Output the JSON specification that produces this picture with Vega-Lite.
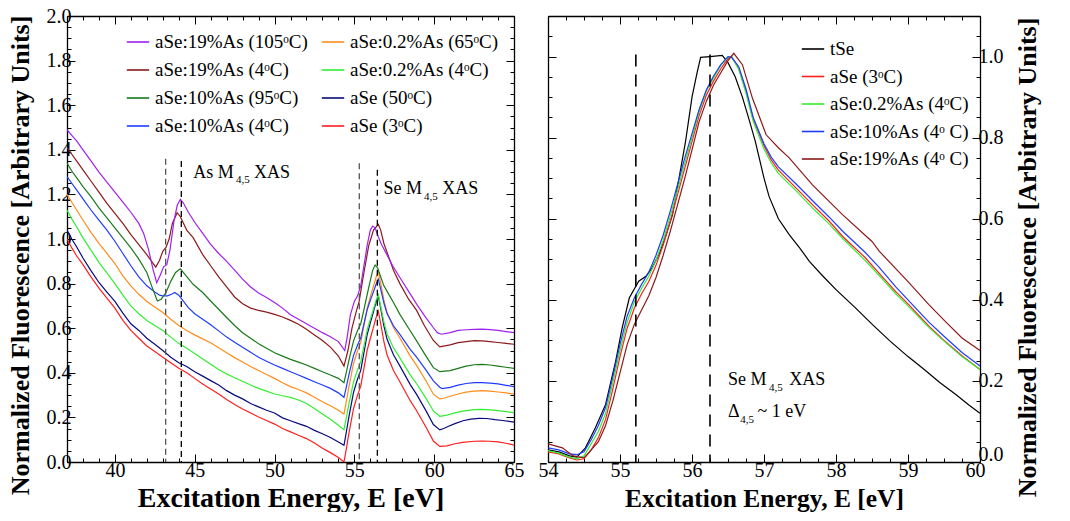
{
  "$schema": "https://vega.github.io/schema/vega-lite/v6.json",
  "background": "white",
  "padding": {"left": 6, "top": 6, "right": 5, "bottom": 0},
  "config": {
    "font": "Liberation Serif",
    "view": {"stroke": null},
    "axis": {
      "grid": false,
      "labelFont": "Liberation Serif",
      "labelFontSize": 20,
      "labelColor": "black",
      "labelFlush": false,
      "labelOverlap": false,
      "titleFont": "Liberation Serif",
      "titleFontSize": 26,
      "titleFontWeight": "bold",
      "titleColor": "black",
      "domainColor": "black",
      "domainWidth": 1.3,
      "tickColor": "black",
      "tickWidth": 1
    },
    "legend": {
      "labelFont": "Liberation Serif",
      "labelFontSize": 19,
      "labelColor": "black",
      "labelLimit": 400,
      "symbolType": "stroke",
      "symbolStrokeWidth": 1.6,
      "symbolSize": 500,
      "padding": 0
    }
  },
  "datasets": {
    "leftNames": [
      {"k": "P", "sample": "aSe:19%As (105ᵒC)"},
      {"k": "O", "sample": "aSe:0.2%As (65ᵒC)"},
      {"k": "B", "sample": "aSe:19%As (4ᵒC)"},
      {"k": "G", "sample": "aSe:0.2%As (4ᵒC)"},
      {"k": "D", "sample": "aSe:10%As (95ᵒC)"},
      {"k": "N", "sample": "aSe (50ᵒC)"},
      {"k": "L", "sample": "aSe:10%As (4ᵒC)"},
      {"k": "R", "sample": "aSe (3ᵒC)"}
    ],
    "rightNames": [
      {"k": "T", "sample": "tSe"},
      {"k": "R", "sample": "aSe (3ᵒC)"},
      {"k": "G", "sample": "aSe:0.2%As (4ᵒC)"},
      {"k": "L", "sample": "aSe:10%As (4ᵒ C)"},
      {"k": "B", "sample": "aSe:19%As (4ᵒ C)"}
    ],
    "leftCurves": [
      {"k":"R","E":37,"F":1.0},{"k":"R","E":37.3,"F":0.96},{"k":"R","E":37.6,"F":0.925},{"k":"R","E":38,"F":0.885},{"k":"R","E":38.5,"F":0.83},{"k":"R","E":39,"F":0.78},{"k":"R","E":39.5,"F":0.735},{"k":"R","E":40,"F":0.69},{"k":"R","E":40.5,"F":0.635},{"k":"R","E":41,"F":0.59},{"k":"R","E":41.5,"F":0.555},{"k":"R","E":42,"F":0.52},{"k":"R","E":42.5,"F":0.495},{"k":"R","E":43,"F":0.47},{"k":"R","E":43.5,"F":0.445},{"k":"R","E":44,"F":0.42},{"k":"R","E":44.5,"F":0.4},{"k":"R","E":45,"F":0.375},{"k":"R","E":45.5,"F":0.35},{"k":"R","E":46,"F":0.327},{"k":"R","E":46.5,"F":0.305},{"k":"R","E":47,"F":0.28},{"k":"R","E":47.5,"F":0.258},{"k":"R","E":48,"F":0.238},{"k":"R","E":48.5,"F":0.22},{"k":"R","E":49,"F":0.202},{"k":"R","E":49.5,"F":0.186},{"k":"R","E":50,"F":0.17},{"k":"R","E":50.5,"F":0.15},{"k":"R","E":51,"F":0.135},{"k":"R","E":51.5,"F":0.12},{"k":"R","E":52,"F":0.105},{"k":"R","E":52.5,"F":0.085},{"k":"R","E":53,"F":0.062},{"k":"R","E":53.5,"F":0.042},{"k":"R","E":54,"F":0.02},{"k":"R","E":54.35,"F":0.0},{"k":"R","E":54.5,"F":0.06},{"k":"R","E":54.65,"F":0.125},{"k":"R","E":54.95,"F":0.24},{"k":"R","E":55.2,"F":0.3},{"k":"R","E":55.4,"F":0.34},{"k":"R","E":55.6,"F":0.42},{"k":"R","E":55.8,"F":0.5},{"k":"R","E":56.0,"F":0.555},{"k":"R","E":56.2,"F":0.605},{"k":"R","E":56.35,"F":0.645},{"k":"R","E":56.5,"F":0.677},{"k":"R","E":56.65,"F":0.62},{"k":"R","E":56.85,"F":0.54},{"k":"R","E":57.05,"F":0.48},{"k":"R","E":57.45,"F":0.41},{"k":"R","E":57.85,"F":0.36},{"k":"R","E":58.5,"F":0.275},{"k":"R","E":58.9,"F":0.23},{"k":"R","E":59.5,"F":0.155},{"k":"R","E":59.95,"F":0.094},{"k":"R","E":60.35,"F":0.07},{"k":"R","E":60.8,"F":0.072},{"k":"R","E":61.3,"F":0.082},{"k":"R","E":61.8,"F":0.088},{"k":"R","E":62.5,"F":0.093},{"k":"R","E":63,"F":0.094},{"k":"R","E":63.5,"F":0.093},{"k":"R","E":64,"F":0.09},{"k":"R","E":64.5,"F":0.084},{"k":"R","E":65,"F":0.076},

      {"k":"N","E":37,"F":1.04},{"k":"N","E":37.3,"F":1.0},{"k":"N","E":37.6,"F":0.965},{"k":"N","E":38,"F":0.915},{"k":"N","E":38.5,"F":0.858},{"k":"N","E":39,"F":0.805},{"k":"N","E":39.5,"F":0.762},{"k":"N","E":40,"F":0.72},{"k":"N","E":40.5,"F":0.668},{"k":"N","E":41,"F":0.62},{"k":"N","E":41.5,"F":0.59},{"k":"N","E":42,"F":0.555},{"k":"N","E":42.5,"F":0.528},{"k":"N","E":43,"F":0.5},{"k":"N","E":43.5,"F":0.47},{"k":"N","E":44,"F":0.445},{"k":"N","E":44.5,"F":0.428},{"k":"N","E":45,"F":0.405},{"k":"N","E":45.5,"F":0.385},{"k":"N","E":46,"F":0.365},{"k":"N","E":46.5,"F":0.345},{"k":"N","E":47,"F":0.32},{"k":"N","E":47.5,"F":0.3},{"k":"N","E":48,"F":0.283},{"k":"N","E":48.5,"F":0.262},{"k":"N","E":49,"F":0.247},{"k":"N","E":49.5,"F":0.232},{"k":"N","E":50,"F":0.22},{"k":"N","E":50.5,"F":0.198},{"k":"N","E":51,"F":0.185},{"k":"N","E":51.5,"F":0.172},{"k":"N","E":52,"F":0.16},{"k":"N","E":52.5,"F":0.142},{"k":"N","E":53,"F":0.127},{"k":"N","E":53.5,"F":0.11},{"k":"N","E":54,"F":0.09},{"k":"N","E":54.35,"F":0.075},{"k":"N","E":54.5,"F":0.135},{"k":"N","E":54.65,"F":0.199},{"k":"N","E":54.95,"F":0.313},{"k":"N","E":55.2,"F":0.372},{"k":"N","E":55.4,"F":0.411},{"k":"N","E":55.6,"F":0.49},{"k":"N","E":55.8,"F":0.57},{"k":"N","E":56.0,"F":0.624},{"k":"N","E":56.2,"F":0.674},{"k":"N","E":56.35,"F":0.714},{"k":"N","E":56.5,"F":0.745},{"k":"N","E":56.65,"F":0.689},{"k":"N","E":56.85,"F":0.61},{"k":"N","E":57.05,"F":0.55},{"k":"N","E":57.45,"F":0.481},{"k":"N","E":57.85,"F":0.431},{"k":"N","E":58.5,"F":0.347},{"k":"N","E":58.9,"F":0.303},{"k":"N","E":59.5,"F":0.228},{"k":"N","E":59.95,"F":0.168},{"k":"N","E":60.35,"F":0.144},{"k":"N","E":60.6,"F":0.15},{"k":"N","E":60.9,"F":0.16},{"k":"N","E":61.3,"F":0.172},{"k":"N","E":61.8,"F":0.185},{"k":"N","E":62.3,"F":0.192},{"k":"N","E":62.8,"F":0.196},{"k":"N","E":63.3,"F":0.195},{"k":"N","E":63.8,"F":0.19},{"k":"N","E":64.3,"F":0.186},{"k":"N","E":64.7,"F":0.182},{"k":"N","E":65,"F":0.179},

      {"k":"G","E":37,"F":1.13},{"k":"G","E":37.3,"F":1.09},{"k":"G","E":37.6,"F":1.055},{"k":"G","E":38,"F":1.005},{"k":"G","E":38.5,"F":0.95},{"k":"G","E":39,"F":0.895},{"k":"G","E":39.5,"F":0.848},{"k":"G","E":40,"F":0.8},{"k":"G","E":40.5,"F":0.748},{"k":"G","E":41,"F":0.7},{"k":"G","E":41.5,"F":0.665},{"k":"G","E":42,"F":0.635},{"k":"G","E":42.5,"F":0.612},{"k":"G","E":43,"F":0.59},{"k":"G","E":43.5,"F":0.56},{"k":"G","E":44,"F":0.532},{"k":"G","E":44.5,"F":0.51},{"k":"G","E":45,"F":0.487},{"k":"G","E":45.5,"F":0.462},{"k":"G","E":46,"F":0.438},{"k":"G","E":46.5,"F":0.415},{"k":"G","E":47,"F":0.395},{"k":"G","E":47.5,"F":0.378},{"k":"G","E":48,"F":0.362},{"k":"G","E":48.5,"F":0.345},{"k":"G","E":49,"F":0.33},{"k":"G","E":49.5,"F":0.318},{"k":"G","E":50,"F":0.305},{"k":"G","E":50.5,"F":0.297},{"k":"G","E":51,"F":0.29},{"k":"G","E":51.5,"F":0.278},{"k":"G","E":52,"F":0.262},{"k":"G","E":52.5,"F":0.24},{"k":"G","E":53,"F":0.215},{"k":"G","E":53.5,"F":0.192},{"k":"G","E":54,"F":0.165},{"k":"G","E":54.35,"F":0.145},{"k":"G","E":54.5,"F":0.199},{"k":"G","E":54.65,"F":0.257},{"k":"G","E":54.95,"F":0.36},{"k":"G","E":55.2,"F":0.413},{"k":"G","E":55.4,"F":0.449},{"k":"G","E":55.6,"F":0.52},{"k":"G","E":55.8,"F":0.592},{"k":"G","E":56.0,"F":0.641},{"k":"G","E":56.2,"F":0.686},{"k":"G","E":56.35,"F":0.722},{"k":"G","E":56.5,"F":0.75},{"k":"G","E":56.65,"F":0.699},{"k":"G","E":56.85,"F":0.628},{"k":"G","E":57.05,"F":0.574},{"k":"G","E":57.45,"F":0.512},{"k":"G","E":57.85,"F":0.467},{"k":"G","E":58.5,"F":0.391},{"k":"G","E":58.9,"F":0.351},{"k":"G","E":59.5,"F":0.284},{"k":"G","E":59.95,"F":0.229},{"k":"G","E":60.35,"F":0.205},{"k":"G","E":60.8,"F":0.21},{"k":"G","E":61.3,"F":0.22},{"k":"G","E":61.8,"F":0.228},{"k":"G","E":62.5,"F":0.235},{"k":"G","E":63,"F":0.236},{"k":"G","E":63.5,"F":0.234},{"k":"G","E":64,"F":0.23},{"k":"G","E":64.5,"F":0.226},{"k":"G","E":65,"F":0.221},

      {"k":"O","E":37,"F":1.2},{"k":"O","E":37.3,"F":1.165},{"k":"O","E":37.6,"F":1.13},{"k":"O","E":38,"F":1.085},{"k":"O","E":38.5,"F":1.03},{"k":"O","E":39,"F":0.98},{"k":"O","E":39.5,"F":0.935},{"k":"O","E":40,"F":0.89},{"k":"O","E":40.5,"F":0.835},{"k":"O","E":41,"F":0.79},{"k":"O","E":41.5,"F":0.752},{"k":"O","E":42,"F":0.72},{"k":"O","E":42.5,"F":0.695},{"k":"O","E":43,"F":0.67},{"k":"O","E":43.5,"F":0.64},{"k":"O","E":44,"F":0.612},{"k":"O","E":44.5,"F":0.59},{"k":"O","E":45,"F":0.57},{"k":"O","E":45.5,"F":0.552},{"k":"O","E":46,"F":0.535},{"k":"O","E":46.5,"F":0.512},{"k":"O","E":47,"F":0.49},{"k":"O","E":47.5,"F":0.468},{"k":"O","E":48,"F":0.448},{"k":"O","E":48.5,"F":0.428},{"k":"O","E":49,"F":0.41},{"k":"O","E":49.5,"F":0.392},{"k":"O","E":50,"F":0.375},{"k":"O","E":50.5,"F":0.355},{"k":"O","E":51,"F":0.338},{"k":"O","E":51.5,"F":0.325},{"k":"O","E":52,"F":0.31},{"k":"O","E":52.5,"F":0.29},{"k":"O","E":53,"F":0.27},{"k":"O","E":53.5,"F":0.252},{"k":"O","E":54,"F":0.232},{"k":"O","E":54.35,"F":0.215},{"k":"O","E":54.5,"F":0.272},{"k":"O","E":54.65,"F":0.334},{"k":"O","E":54.95,"F":0.443},{"k":"O","E":55.2,"F":0.499},{"k":"O","E":55.4,"F":0.537},{"k":"O","E":55.6,"F":0.612},{"k":"O","E":55.8,"F":0.689},{"k":"O","E":56.0,"F":0.741},{"k":"O","E":56.2,"F":0.788},{"k":"O","E":56.35,"F":0.826},{"k":"O","E":56.5,"F":0.856},{"k":"O","E":56.65,"F":0.802},{"k":"O","E":56.85,"F":0.727},{"k":"O","E":57.05,"F":0.669},{"k":"O","E":57.45,"F":0.603},{"k":"O","E":57.85,"F":0.556},{"k":"O","E":58.5,"F":0.475},{"k":"O","E":58.9,"F":0.433},{"k":"O","E":59.5,"F":0.362},{"k":"O","E":59.95,"F":0.304},{"k":"O","E":60.35,"F":0.283},{"k":"O","E":60.6,"F":0.286},{"k":"O","E":61,"F":0.295},{"k":"O","E":61.5,"F":0.305},{"k":"O","E":62,"F":0.313},{"k":"O","E":62.5,"F":0.318},{"k":"O","E":63,"F":0.32},{"k":"O","E":63.5,"F":0.318},{"k":"O","E":64,"F":0.314},{"k":"O","E":64.5,"F":0.31},{"k":"O","E":65,"F":0.304},

      {"k":"L","E":37,"F":1.28},{"k":"L","E":37.3,"F":1.25},{"k":"L","E":37.6,"F":1.22},{"k":"L","E":38,"F":1.18},{"k":"L","E":38.5,"F":1.13},{"k":"L","E":39,"F":1.085},{"k":"L","E":39.5,"F":1.04},{"k":"L","E":40,"F":0.99},{"k":"L","E":40.5,"F":0.935},{"k":"L","E":41,"F":0.88},{"k":"L","E":41.5,"F":0.83},{"k":"L","E":42,"F":0.79},{"k":"L","E":42.5,"F":0.762},{"k":"L","E":42.8,"F":0.748},{"k":"L","E":43.0,"F":0.745},{"k":"L","E":43.3,"F":0.745},{"k":"L","E":43.55,"F":0.752},{"k":"L","E":43.75,"F":0.76},{"k":"L","E":44.0,"F":0.748},{"k":"L","E":44.3,"F":0.72},{"k":"L","E":44.6,"F":0.692},{"k":"L","E":45,"F":0.665},{"k":"L","E":45.5,"F":0.64},{"k":"L","E":46,"F":0.615},{"k":"L","E":46.5,"F":0.588},{"k":"L","E":47,"F":0.56},{"k":"L","E":47.5,"F":0.537},{"k":"L","E":48,"F":0.515},{"k":"L","E":48.5,"F":0.492},{"k":"L","E":49,"F":0.47},{"k":"L","E":49.5,"F":0.452},{"k":"L","E":50,"F":0.435},{"k":"L","E":50.5,"F":0.42},{"k":"L","E":51,"F":0.405},{"k":"L","E":51.5,"F":0.39},{"k":"L","E":52,"F":0.375},{"k":"L","E":52.5,"F":0.36},{"k":"L","E":53,"F":0.345},{"k":"L","E":53.5,"F":0.33},{"k":"L","E":54,"F":0.31},{"k":"L","E":54.35,"F":0.29},{"k":"L","E":54.5,"F":0.337},{"k":"L","E":54.65,"F":0.388},{"k":"L","E":54.95,"F":0.478},{"k":"L","E":55.2,"F":0.525},{"k":"L","E":55.4,"F":0.556},{"k":"L","E":55.6,"F":0.619},{"k":"L","E":55.8,"F":0.682},{"k":"L","E":56.0,"F":0.725},{"k":"L","E":56.2,"F":0.764},{"k":"L","E":56.35,"F":0.795},{"k":"L","E":56.5,"F":0.82},{"k":"L","E":56.65,"F":0.775},{"k":"L","E":56.85,"F":0.713},{"k":"L","E":57.05,"F":0.666},{"k":"L","E":57.45,"F":0.611},{"k":"L","E":57.85,"F":0.572},{"k":"L","E":58.5,"F":0.505},{"k":"L","E":58.9,"F":0.47},{"k":"L","E":59.5,"F":0.411},{"k":"L","E":59.95,"F":0.364},{"k":"L","E":60.35,"F":0.335},{"k":"L","E":60.5,"F":0.329},{"k":"L","E":61,"F":0.335},{"k":"L","E":61.5,"F":0.345},{"k":"L","E":62,"F":0.352},{"k":"L","E":62.5,"F":0.356},{"k":"L","E":63,"F":0.356},{"k":"L","E":63.5,"F":0.354},{"k":"L","E":64,"F":0.35},{"k":"L","E":64.5,"F":0.344},{"k":"L","E":65,"F":0.338},

      {"k":"D","E":37,"F":1.34},{"k":"D","E":37.3,"F":1.305},{"k":"D","E":37.6,"F":1.275},{"k":"D","E":38,"F":1.235},{"k":"D","E":38.5,"F":1.19},{"k":"D","E":39,"F":1.14},{"k":"D","E":39.5,"F":1.095},{"k":"D","E":40,"F":1.05},{"k":"D","E":40.5,"F":1.005},{"k":"D","E":41,"F":0.96},{"k":"D","E":41.5,"F":0.91},{"k":"D","E":42,"F":0.85},{"k":"D","E":42.3,"F":0.79},{"k":"D","E":42.66,"F":0.722},{"k":"D","E":42.9,"F":0.73},{"k":"D","E":43.2,"F":0.76},{"k":"D","E":43.5,"F":0.81},{"k":"D","E":43.8,"F":0.85},{"k":"D","E":44.1,"F":0.866},{"k":"D","E":44.4,"F":0.84},{"k":"D","E":44.9,"F":0.797},{"k":"D","E":45.5,"F":0.76},{"k":"D","E":46,"F":0.722},{"k":"D","E":46.5,"F":0.685},{"k":"D","E":47,"F":0.648},{"k":"D","E":47.5,"F":0.612},{"k":"D","E":48,"F":0.58},{"k":"D","E":48.5,"F":0.555},{"k":"D","E":49,"F":0.53},{"k":"D","E":49.5,"F":0.51},{"k":"D","E":50,"F":0.49},{"k":"D","E":50.5,"F":0.475},{"k":"D","E":51,"F":0.46},{"k":"D","E":51.5,"F":0.448},{"k":"D","E":52,"F":0.435},{"k":"D","E":52.5,"F":0.42},{"k":"D","E":53,"F":0.405},{"k":"D","E":53.5,"F":0.39},{"k":"D","E":54,"F":0.375},{"k":"D","E":54.35,"F":0.356},{"k":"D","E":54.5,"F":0.403},{"k":"D","E":54.65,"F":0.453},{"k":"D","E":54.95,"F":0.543},{"k":"D","E":55.2,"F":0.59},{"k":"D","E":55.4,"F":0.62},{"k":"D","E":55.6,"F":0.683},{"k":"D","E":55.8,"F":0.75},{"k":"D","E":56.0,"F":0.815},{"k":"D","E":56.15,"F":0.86},{"k":"D","E":56.3,"F":0.883},{"k":"D","E":56.45,"F":0.872},{"k":"D","E":56.65,"F":0.83},{"k":"D","E":56.85,"F":0.79},{"k":"D","E":57.05,"F":0.765},{"k":"D","E":57.45,"F":0.715},{"k":"D","E":57.85,"F":0.662},{"k":"D","E":58.4,"F":0.6},{"k":"D","E":58.9,"F":0.543},{"k":"D","E":59.4,"F":0.485},{"k":"D","E":59.95,"F":0.423},{"k":"D","E":60.35,"F":0.405},{"k":"D","E":61,"F":0.41},{"k":"D","E":61.5,"F":0.42},{"k":"D","E":62,"F":0.43},{"k":"D","E":62.5,"F":0.436},{"k":"D","E":63,"F":0.438},{"k":"D","E":63.5,"F":0.435},{"k":"D","E":64,"F":0.43},{"k":"D","E":64.5,"F":0.425},{"k":"D","E":65,"F":0.42},

      {"k":"B","E":37,"F":1.41},{"k":"B","E":37.3,"F":1.38},{"k":"B","E":37.6,"F":1.35},{"k":"B","E":38,"F":1.31},{"k":"B","E":38.5,"F":1.26},{"k":"B","E":39,"F":1.21},{"k":"B","E":39.5,"F":1.16},{"k":"B","E":40,"F":1.115},{"k":"B","E":40.5,"F":1.07},{"k":"B","E":41,"F":1.02},{"k":"B","E":41.5,"F":0.975},{"k":"B","E":42,"F":0.93},{"k":"B","E":42.3,"F":0.9},{"k":"B","E":42.56,"F":0.874},{"k":"B","E":42.8,"F":0.905},{"k":"B","E":43.0,"F":0.945},{"k":"B","E":43.2,"F":0.962},{"k":"B","E":43.4,"F":1.0},{"k":"B","E":43.6,"F":1.07},{"k":"B","E":43.9,"F":1.118},{"k":"B","E":44.1,"F":1.1},{"k":"B","E":44.5,"F":1.04},{"k":"B","E":44.9,"F":1.006},{"k":"B","E":45.5,"F":0.93},{"k":"B","E":46,"F":0.88},{"k":"B","E":46.5,"F":0.83},{"k":"B","E":47,"F":0.785},{"k":"B","E":47.5,"F":0.74},{"k":"B","E":48,"F":0.71},{"k":"B","E":48.5,"F":0.69},{"k":"B","E":49,"F":0.68},{"k":"B","E":49.5,"F":0.672},{"k":"B","E":50,"F":0.662},{"k":"B","E":50.5,"F":0.65},{"k":"B","E":51,"F":0.635},{"k":"B","E":51.5,"F":0.618},{"k":"B","E":52,"F":0.595},{"k":"B","E":52.5,"F":0.57},{"k":"B","E":53,"F":0.545},{"k":"B","E":53.5,"F":0.515},{"k":"B","E":54,"F":0.475},{"k":"B","E":54.35,"F":0.43},{"k":"B","E":54.6,"F":0.5},{"k":"B","E":54.85,"F":0.6},{"k":"B","E":55.1,"F":0.67},{"k":"B","E":55.3,"F":0.72},{"k":"B","E":55.6,"F":0.85},{"k":"B","E":55.9,"F":0.97},{"k":"B","E":56.2,"F":1.04},{"k":"B","E":56.5,"F":1.066},{"k":"B","E":56.65,"F":1.04},{"k":"B","E":56.85,"F":0.98},{"k":"B","E":57.05,"F":0.94},{"k":"B","E":57.45,"F":0.86},{"k":"B","E":57.85,"F":0.8},{"k":"B","E":58.4,"F":0.73},{"k":"B","E":58.9,"F":0.68},{"k":"B","E":59.4,"F":0.61},{"k":"B","E":59.95,"F":0.545},{"k":"B","E":60.35,"F":0.516},{"k":"B","E":61,"F":0.525},{"k":"B","E":61.5,"F":0.535},{"k":"B","E":62,"F":0.54},{"k":"B","E":62.5,"F":0.544},{"k":"B","E":63,"F":0.543},{"k":"B","E":63.5,"F":0.54},{"k":"B","E":64,"F":0.536},{"k":"B","E":64.5,"F":0.532},{"k":"B","E":65,"F":0.528},

      {"k":"P","E":37,"F":1.49},{"k":"P","E":37.3,"F":1.465},{"k":"P","E":37.6,"F":1.44},{"k":"P","E":38,"F":1.4},{"k":"P","E":38.5,"F":1.35},{"k":"P","E":39,"F":1.3},{"k":"P","E":39.5,"F":1.255},{"k":"P","E":40,"F":1.21},{"k":"P","E":40.5,"F":1.165},{"k":"P","E":41,"F":1.12},{"k":"P","E":41.5,"F":1.07},{"k":"P","E":41.8,"F":1.025},{"k":"P","E":42.1,"F":0.955},{"k":"P","E":42.4,"F":0.86},{"k":"P","E":42.62,"F":0.804},{"k":"P","E":42.85,"F":0.84},{"k":"P","E":43.05,"F":0.875},{"k":"P","E":43.25,"F":0.885},{"k":"P","E":43.45,"F":0.95},{"k":"P","E":43.7,"F":1.08},{"k":"P","E":43.9,"F":1.15},{"k":"P","E":44.1,"F":1.178},{"k":"P","E":44.3,"F":1.16},{"k":"P","E":44.6,"F":1.12},{"k":"P","E":45,"F":1.075},{"k":"P","E":45.5,"F":1.025},{"k":"P","E":46,"F":0.976},{"k":"P","E":46.5,"F":0.935},{"k":"P","E":47,"F":0.9},{"k":"P","E":47.5,"F":0.86},{"k":"P","E":48,"F":0.82},{"k":"P","E":48.5,"F":0.785},{"k":"P","E":49,"F":0.758},{"k":"P","E":49.5,"F":0.738},{"k":"P","E":50,"F":0.715},{"k":"P","E":50.5,"F":0.69},{"k":"P","E":51,"F":0.66},{"k":"P","E":51.5,"F":0.64},{"k":"P","E":52,"F":0.62},{"k":"P","E":52.5,"F":0.6},{"k":"P","E":53,"F":0.58},{"k":"P","E":53.5,"F":0.562},{"k":"P","E":54,"F":0.54},{"k":"P","E":54.4,"F":0.5},{"k":"P","E":54.55,"F":0.56},{"k":"P","E":54.75,"F":0.66},{"k":"P","E":55.0,"F":0.72},{"k":"P","E":55.2,"F":0.745},{"k":"P","E":55.4,"F":0.79},{"k":"P","E":55.6,"F":0.88},{"k":"P","E":55.8,"F":0.97},{"k":"P","E":56.0,"F":1.04},{"k":"P","E":56.15,"F":1.058},{"k":"P","E":56.3,"F":1.05},{"k":"P","E":56.5,"F":1.01},{"k":"P","E":56.7,"F":0.975},{"k":"P","E":57.03,"F":0.931},{"k":"P","E":57.4,"F":0.88},{"k":"P","E":57.86,"F":0.826},{"k":"P","E":58.4,"F":0.765},{"k":"P","E":58.91,"F":0.707},{"k":"P","E":59.4,"F":0.655},{"k":"P","E":59.95,"F":0.602},{"k":"P","E":60.2,"F":0.58},{"k":"P","E":60.45,"F":0.573},{"k":"P","E":61,"F":0.58},{"k":"P","E":61.5,"F":0.59},{"k":"P","E":62,"F":0.593},{"k":"P","E":62.5,"F":0.595},{"k":"P","E":63,"F":0.596},{"k":"P","E":63.5,"F":0.594},{"k":"P","E":64,"F":0.59},{"k":"P","E":64.5,"F":0.585},{"k":"P","E":65,"F":0.58}
    ],
    "rightCurves": [
      {"k":"T","E":54.0,"F":0.03},{"k":"T","E":54.15,"F":0.025},{"k":"T","E":54.3,"F":0.015},{"k":"T","E":54.4,"F":0.012},{"k":"T","E":54.52,"F":0.035},{"k":"T","E":54.66,"F":0.085},{"k":"T","E":54.8,"F":0.142},{"k":"T","E":54.94,"F":0.249},{"k":"T","E":55.03,"F":0.331},{"k":"T","E":55.13,"F":0.405},{"k":"T","E":55.26,"F":0.446},{"k":"T","E":55.36,"F":0.458},{"k":"T","E":55.45,"F":0.48},{"k":"T","E":55.54,"F":0.512},{"k":"T","E":55.63,"F":0.555},{"k":"T","E":55.73,"F":0.61},{"k":"T","E":55.82,"F":0.7},{"k":"T","E":55.91,"F":0.79},{"k":"T","E":56.0,"F":0.9},{"k":"T","E":56.07,"F":0.96},{"k":"T","E":56.12,"F":0.998},{"k":"T","E":56.25,"F":1.0},{"k":"T","E":56.42,"F":1.003},{"k":"T","E":56.5,"F":0.985},{"k":"T","E":56.6,"F":0.95},{"k":"T","E":56.7,"F":0.9},{"k":"T","E":56.8,"F":0.84},{"k":"T","E":56.88,"F":0.79},{"k":"T","E":57.0,"F":0.7},{"k":"T","E":57.07,"F":0.655},{"k":"T","E":57.2,"F":0.6},{"k":"T","E":57.35,"F":0.561},{"k":"T","E":57.5,"F":0.527},{"k":"T","E":57.63,"F":0.495},{"k":"T","E":57.81,"F":0.46},{"k":"T","E":58.0,"F":0.425},{"k":"T","E":58.27,"F":0.38},{"k":"T","E":58.5,"F":0.34},{"k":"T","E":58.74,"F":0.3},{"k":"T","E":59.0,"F":0.26},{"k":"T","E":59.2,"F":0.232},{"k":"T","E":59.45,"F":0.195},{"k":"T","E":59.66,"F":0.167},{"k":"T","E":59.85,"F":0.14},{"k":"T","E":60.0,"F":0.12},

      {"k":"R","E":54.0,"F":0.025},{"k":"R","E":54.15,"F":0.02},{"k":"R","E":54.3,"F":0.01},{"k":"R","E":54.4,"F":0.005},{"k":"R","E":54.5,"F":0.008},{"k":"R","E":54.6,"F":0.03},{"k":"R","E":54.7,"F":0.06},{"k":"R","E":54.8,"F":0.105},{"k":"R","E":54.9,"F":0.18},{"k":"R","E":55.0,"F":0.26},{"k":"R","E":55.1,"F":0.33},{"k":"R","E":55.2,"F":0.38},{"k":"R","E":55.3,"F":0.415},{"k":"R","E":55.4,"F":0.445},{"k":"R","E":55.5,"F":0.485},{"k":"R","E":55.6,"F":0.535},{"k":"R","E":55.7,"F":0.595},{"k":"R","E":55.8,"F":0.66},{"k":"R","E":55.9,"F":0.725},{"k":"R","E":56.0,"F":0.79},{"k":"R","E":56.1,"F":0.855},{"k":"R","E":56.2,"F":0.905},{"k":"R","E":56.3,"F":0.94},{"k":"R","E":56.4,"F":0.97},{"k":"R","E":56.5,"F":0.995},{"k":"R","E":56.55,"F":1.0},{"k":"R","E":56.65,"F":0.97},{"k":"R","E":56.75,"F":0.915},{"k":"R","E":56.85,"F":0.845},{"k":"R","E":57.0,"F":0.78},{"k":"R","E":57.1,"F":0.745},{"k":"R","E":57.2,"F":0.72},{"k":"R","E":57.45,"F":0.675},{"k":"R","E":57.7,"F":0.63},{"k":"R","E":57.9,"F":0.595},{"k":"R","E":58.1,"F":0.555},{"k":"R","E":58.4,"F":0.505},{"k":"R","E":58.6,"F":0.465},{"k":"R","E":58.83,"F":0.42},{"k":"R","E":59.0,"F":0.39},{"k":"R","E":59.29,"F":0.335},{"k":"R","E":59.5,"F":0.3},{"k":"R","E":59.75,"F":0.262},{"k":"R","E":60.0,"F":0.228},

      {"k":"G","E":54.0,"F":0.028},{"k":"G","E":54.15,"F":0.022},{"k":"G","E":54.3,"F":0.012},{"k":"G","E":54.4,"F":0.008},{"k":"G","E":54.5,"F":0.015},{"k":"G","E":54.6,"F":0.045},{"k":"G","E":54.7,"F":0.075},{"k":"G","E":54.8,"F":0.12},{"k":"G","E":54.9,"F":0.195},{"k":"G","E":55.0,"F":0.275},{"k":"G","E":55.1,"F":0.345},{"k":"G","E":55.2,"F":0.395},{"k":"G","E":55.3,"F":0.428},{"k":"G","E":55.4,"F":0.458},{"k":"G","E":55.5,"F":0.497},{"k":"G","E":55.6,"F":0.547},{"k":"G","E":55.7,"F":0.607},{"k":"G","E":55.8,"F":0.672},{"k":"G","E":55.9,"F":0.737},{"k":"G","E":56.0,"F":0.8},{"k":"G","E":56.1,"F":0.865},{"k":"G","E":56.2,"F":0.915},{"k":"G","E":56.3,"F":0.948},{"k":"G","E":56.4,"F":0.978},{"k":"G","E":56.5,"F":0.998},{"k":"G","E":56.55,"F":1.0},{"k":"G","E":56.65,"F":0.968},{"k":"G","E":56.75,"F":0.91},{"k":"G","E":56.85,"F":0.84},{"k":"G","E":57.0,"F":0.772},{"k":"G","E":57.1,"F":0.738},{"k":"G","E":57.2,"F":0.712},{"k":"G","E":57.45,"F":0.668},{"k":"G","E":57.7,"F":0.622},{"k":"G","E":57.9,"F":0.588},{"k":"G","E":58.1,"F":0.55},{"k":"G","E":58.4,"F":0.498},{"k":"G","E":58.6,"F":0.46},{"k":"G","E":58.83,"F":0.415},{"k":"G","E":59.0,"F":0.385},{"k":"G","E":59.29,"F":0.332},{"k":"G","E":59.5,"F":0.298},{"k":"G","E":59.75,"F":0.26},{"k":"G","E":60.0,"F":0.228},

      {"k":"L","E":54.0,"F":0.035},{"k":"L","E":54.15,"F":0.03},{"k":"L","E":54.3,"F":0.02},{"k":"L","E":54.4,"F":0.018},{"k":"L","E":54.5,"F":0.025},{"k":"L","E":54.6,"F":0.055},{"k":"L","E":54.7,"F":0.09},{"k":"L","E":54.8,"F":0.135},{"k":"L","E":54.9,"F":0.21},{"k":"L","E":55.0,"F":0.29},{"k":"L","E":55.1,"F":0.36},{"k":"L","E":55.2,"F":0.405},{"k":"L","E":55.3,"F":0.438},{"k":"L","E":55.4,"F":0.468},{"k":"L","E":55.5,"F":0.51},{"k":"L","E":55.6,"F":0.56},{"k":"L","E":55.7,"F":0.62},{"k":"L","E":55.8,"F":0.685},{"k":"L","E":55.9,"F":0.75},{"k":"L","E":56.0,"F":0.81},{"k":"L","E":56.1,"F":0.87},{"k":"L","E":56.2,"F":0.918},{"k":"L","E":56.3,"F":0.952},{"k":"L","E":56.4,"F":0.98},{"k":"L","E":56.5,"F":1.0},{"k":"L","E":56.55,"F":0.998},{"k":"L","E":56.65,"F":0.975},{"k":"L","E":56.75,"F":0.92},{"k":"L","E":56.85,"F":0.85},{"k":"L","E":57.0,"F":0.785},{"k":"L","E":57.1,"F":0.752},{"k":"L","E":57.2,"F":0.728},{"k":"L","E":57.45,"F":0.685},{"k":"L","E":57.7,"F":0.64},{"k":"L","E":57.9,"F":0.605},{"k":"L","E":58.1,"F":0.568},{"k":"L","E":58.4,"F":0.518},{"k":"L","E":58.6,"F":0.48},{"k":"L","E":58.83,"F":0.432},{"k":"L","E":59.0,"F":0.4},{"k":"L","E":59.29,"F":0.345},{"k":"L","E":59.5,"F":0.31},{"k":"L","E":59.75,"F":0.27},{"k":"L","E":60.0,"F":0.237},

      {"k":"B","E":54.0,"F":0.045},{"k":"B","E":54.2,"F":0.035},{"k":"B","E":54.35,"F":0.015},{"k":"B","E":54.5,"F":0.01},{"k":"B","E":54.6,"F":0.03},{"k":"B","E":54.7,"F":0.05},{"k":"B","E":54.8,"F":0.09},{"k":"B","E":54.9,"F":0.15},{"k":"B","E":55.0,"F":0.22},{"k":"B","E":55.1,"F":0.29},{"k":"B","E":55.2,"F":0.34},{"k":"B","E":55.3,"F":0.375},{"k":"B","E":55.4,"F":0.41},{"k":"B","E":55.5,"F":0.455},{"k":"B","E":55.6,"F":0.51},{"k":"B","E":55.7,"F":0.57},{"k":"B","E":55.8,"F":0.635},{"k":"B","E":55.9,"F":0.7},{"k":"B","E":56.0,"F":0.77},{"k":"B","E":56.1,"F":0.84},{"k":"B","E":56.2,"F":0.89},{"k":"B","E":56.3,"F":0.93},{"k":"B","E":56.4,"F":0.96},{"k":"B","E":56.5,"F":0.99},{"k":"B","E":56.58,"F":1.008},{"k":"B","E":56.7,"F":0.98},{"k":"B","E":56.84,"F":0.897},{"k":"B","E":57.03,"F":0.807},{"k":"B","E":57.2,"F":0.775},{"k":"B","E":57.35,"F":0.75},{"k":"B","E":57.67,"F":0.684},{"k":"B","E":58.09,"F":0.61},{"k":"B","E":58.5,"F":0.544},{"k":"B","E":58.6,"F":0.52},{"k":"B","E":59.0,"F":0.445},{"k":"B","E":59.29,"F":0.388},{"k":"B","E":59.5,"F":0.35},{"k":"B","E":59.75,"F":0.306},{"k":"B","E":60.0,"F":0.275}
    ],
    "leftEdges": [
      {"E": 43.18, "edge": "M5", "top": 1.36},
      {"E": 44.16, "edge": "M4", "top": 1.35},
      {"E": 55.31, "edge": "M5", "top": 1.34},
      {"E": 56.44, "edge": "M4", "top": 1.31}
    ],
    "rightEdges": [
      {"E": 55.22, "top": 1.005},
      {"E": 56.25, "top": 1.005}
    ],
    "leftNotes": [
      {"E": 44.91, "F": 1.275, "t": "As M"},
      {"E": 48.72, "F": 1.275, "t": "XAS"},
      {"E": 56.82, "F": 1.2, "t": "Se M"},
      {"E": 60.5, "F": 1.2, "t": "XAS"}
    ],
    "leftSubs": [
      {"E": 47.59, "F": 1.25, "t": "4,5"},
      {"E": 59.37, "F": 1.175, "t": "4,5"}
    ],
    "rightNotes": [
      {"E": 56.5, "F": 0.19, "t": "Se M"},
      {"E": 57.35, "F": 0.19, "t": "XAS"},
      {"E": 56.5, "F": 0.112, "t": "Δ"},
      {"E": 56.91, "F": 0.112, "t": "~ 1 eV"}
    ],
    "rightSubs": [
      {"E": 57.07, "F": 0.174, "t": "4,5"},
      {"E": 56.67, "F": 0.096, "t": "4,5"}
    ]
  },
  "spacing": 14,
  "resolve": {"scale": {"color": "independent"}, "legend": {"color": "independent"}},
  "hconcat": [
    {
      "width": 447,
      "height": 446,
      "resolve": {"axis": {"x": "independent", "y": "independent"}},
      "layer": [
        {
          "data": {"name": "leftCurves"},
          "transform": [{"lookup": "k", "from": {"data": {"name": "leftNames"}, "key": "k", "fields": ["sample"]}}],
          "mark": {"type": "line", "strokeWidth": 1.2, "clip": true},
          "encoding": {
            "x": {
              "field": "E", "type": "quantitative",
              "scale": {"domain": [37, 65], "nice": false, "zero": false},
              "axis": {
                "orient": "bottom",
                "title": "Excitation Energy, E [eV]",
                "titleFontSize": 28,
                "labelFont": "Liberation Serif",
                "values": [37,38,39,40,41,42,43,44,45,46,47,48,49,50,51,52,53,54,55,56,57,58,59,60,61,62,63,64,65],
                "format": "d",
                "labelExpr": "datum.value % 5 === 0 ? datum.label : ''",
                "tickSize": {"condition": {"test": "datum.value % 5 === 0", "value": -8}, "value": -4},
                "labelPadding": 6,
                "titlePadding": 0
              }
            },
            "y": {
              "field": "F", "type": "quantitative",
              "scale": {"domain": [0, 2], "nice": false, "zero": true},
              "axis": {
                "orient": "left",
                "title": "Normalized Fluorescence [Arbitrary Units]",
                "titleAngle": 270,
                "titleBaseline": "bottom",
                "titleAlign": "center",
                "titleX": -34,
                "titleY": 239,
                "labelFont": "Liberation Serif",
                "values": [0,0.05,0.1,0.15,0.2,0.25,0.3,0.35,0.4,0.45,0.5,0.55,0.6,0.65,0.7,0.75,0.8,0.85,0.9,0.95,1,1.05,1.1,1.15,1.2,1.25,1.3,1.35,1.4,1.45,1.5,1.55,1.6,1.65,1.7,1.75,1.8,1.85,1.9,1.95,2],
                "labelExpr": "abs(datum.value / 0.2 - round(datum.value / 0.2)) < 0.001 ? format(datum.value, '.1f') : ''",
                "tickSize": {"condition": {"test": "abs(datum.value / 0.2 - round(datum.value / 0.2)) < 0.001", "value": -8}, "value": -4},
                "labelPadding": 4
              }
            },
            "color": {
              "field": "sample", "type": "nominal",
              "scale": {
                "domain": ["aSe:19%As (105ᵒC)", "aSe:19%As (4ᵒC)", "aSe:10%As (95ᵒC)", "aSe:10%As (4ᵒC)", "aSe:0.2%As (65ᵒC)", "aSe:0.2%As (4ᵒC)", "aSe (50ᵒC)", "aSe (3ᵒC)"],
                "range": ["#A020F0", "#8B1A1A", "#1A7A1A", "#1E3CFF", "#FF8C1A", "#33EE33", "#0A0A80", "#FF1E1E"]
              },
              "legend": {
                "orient": "none",
                "legendX": 59,
                "legendY": 14,
                "columns": 2,
                "title": null,
                "columnPadding": 10,
                "rowPadding": 6,
                "labelOffset": 5
              }
            }
          }
        },
        {
          "data": {"name": "leftEdges"},
          "transform": [{"filter": "datum.edge === 'M5'"}],
          "mark": {"type": "rule", "strokeDash": [6, 4], "strokeWidth": 1.3, "color": "#555555"},
          "encoding": {
            "x": {
              "field": "E", "type": "quantitative",
              "axis": {
                "orient": "top",
                "title": null,
                "labels": false,
                "values": [37,38,39,40,41,42,43,44,45,46,47,48,49,50,51,52,53,54,55,56,57,58,59,60,61,62,63,64,65],
                "tickSize": {"condition": {"test": "datum.value % 5 === 0", "value": -8}, "value": -4}
              }
            },
            "y": {
              "field": "top", "type": "quantitative",
              "axis": {
                "orient": "right",
                "title": null,
                "labels": false,
                "values": [0,0.05,0.1,0.15,0.2,0.25,0.3,0.35,0.4,0.45,0.5,0.55,0.6,0.65,0.7,0.75,0.8,0.85,0.9,0.95,1,1.05,1.1,1.15,1.2,1.25,1.3,1.35,1.4,1.45,1.5,1.55,1.6,1.65,1.7,1.75,1.8,1.85,1.9,1.95,2],
                "tickSize": {"condition": {"test": "abs(datum.value / 0.2 - round(datum.value / 0.2)) < 0.001", "value": -8}, "value": -4}
              }
            },
            "y2": {"datum": 0}
          }
        },
        {
          "data": {"name": "leftEdges"},
          "transform": [{"filter": "datum.edge === 'M4'"}],
          "mark": {"type": "rule", "strokeDash": [6, 4], "strokeWidth": 1.3, "color": "black"},
          "encoding": {
            "x": {"field": "E", "type": "quantitative", "axis": null},
            "y": {"field": "top", "type": "quantitative", "axis": null},
            "y2": {"datum": 0}
          }
        },
        {
          "data": {"name": "leftNotes"},
          "mark": {"type": "text", "align": "left", "baseline": "alphabetic", "fontSize": 18, "font": "Liberation Serif", "color": "black"},
          "encoding": {
            "x": {"field": "E", "type": "quantitative", "axis": null},
            "y": {"field": "F", "type": "quantitative", "axis": null},
            "text": {"field": "t"}
          }
        },
        {
          "data": {"name": "leftSubs"},
          "mark": {"type": "text", "align": "left", "baseline": "alphabetic", "fontSize": 11, "font": "Liberation Serif", "color": "black"},
          "encoding": {
            "x": {"field": "E", "type": "quantitative", "axis": null},
            "y": {"field": "F", "type": "quantitative", "axis": null},
            "text": {"field": "t"}
          }
        }
      ]
    },
    {
      "width": 432,
      "height": 446,
      "resolve": {"axis": {"x": "independent", "y": "independent"}},
      "layer": [
        {
          "data": {"name": "rightCurves"},
          "transform": [{"lookup": "k", "from": {"data": {"name": "rightNames"}, "key": "k", "fields": ["sample"]}}],
          "mark": {"type": "line", "strokeWidth": 1.2, "clip": true},
          "encoding": {
            "x": {
              "field": "E", "type": "quantitative",
              "scale": {"domain": [54, 60], "nice": false, "zero": false},
              "axis": {
                "orient": "bottom",
                "title": "Excitation Energy, E [eV]",
                "titleFontSize": 25.5,
                "labelFont": "Liberation Serif",
                "values": [54,54.25,54.5,54.75,55,55.25,55.5,55.75,56,56.25,56.5,56.75,57,57.25,57.5,57.75,58,58.25,58.5,58.75,59,59.25,59.5,59.75,60],
                "labelExpr": "datum.value % 1 === 0 ? format(datum.value, 'd') : ''",
                "labelOffset": {"condition": {"test": "datum.value === 60", "value": -5}, "value": 0},
                "tickSize": {"condition": {"test": "datum.value % 1 === 0", "value": -8}, "value": -4},
                "labelPadding": 6,
                "titlePadding": 2
              }
            },
            "y": {
              "field": "F", "type": "quantitative",
              "scale": {"domain": [0, 1.1], "nice": false, "zero": true},
              "axis": {
                "orient": "right",
                "title": "Normalized Fluorescence [Arbitrary Units]",
                "titleAngle": 270,
                "titleBaseline": "top",
                "titleAlign": "center",
                "titleX": 34,
                "titleY": 241,
                "labelFont": "Liberation Serif",
                "values": [0,0.05,0.1,0.15,0.2,0.25,0.3,0.35,0.4,0.45,0.5,0.55,0.6,0.65,0.7,0.75,0.8,0.85,0.9,0.95,1,1.05,1.1],
                "labelExpr": "abs(datum.value / 0.2 - round(datum.value / 0.2)) < 0.001 ? format(datum.value, '.1f') : ''",
                "labelOffset": {"condition": {"test": "datum.value === 0", "value": -8}, "value": 0},
                "tickSize": {"condition": {"test": "abs(datum.value / 0.2 - round(datum.value / 0.2)) < 0.001", "value": -8}, "value": -4},
                "labelPadding": 6
              }
            },
            "color": {
              "field": "sample", "type": "nominal",
              "scale": {
                "domain": ["tSe", "aSe (3ᵒC)", "aSe:0.2%As (4ᵒC)", "aSe:10%As (4ᵒ C)", "aSe:19%As (4ᵒ C)"],
                "range": ["#000000", "#FF1E1E", "#33EE33", "#1E3CFF", "#8B1A1A"]
              },
              "legend": {
                "orient": "none",
                "legendX": 253,
                "legendY": 21,
                "columns": 1,
                "title": null,
                "rowPadding": 5.5,
                "labelOffset": 5
              }
            }
          }
        },
        {
          "data": {"name": "rightEdges"},
          "mark": {"type": "rule", "strokeDash": [12, 8], "strokeWidth": 1.6, "color": "black"},
          "encoding": {
            "x": {
              "field": "E", "type": "quantitative",
              "axis": {
                "orient": "top",
                "title": null,
                "labels": false,
                "values": [54,54.25,54.5,54.75,55,55.25,55.5,55.75,56,56.25,56.5,56.75,57,57.25,57.5,57.75,58,58.25,58.5,58.75,59,59.25,59.5,59.75,60],
                "tickSize": {"condition": {"test": "datum.value % 1 === 0", "value": -8}, "value": -4}
              }
            },
            "y": {
              "field": "top", "type": "quantitative",
              "axis": {
                "orient": "left",
                "title": null,
                "labels": false,
                "values": [0,0.05,0.1,0.15,0.2,0.25,0.3,0.35,0.4,0.45,0.5,0.55,0.6,0.65,0.7,0.75,0.8,0.85,0.9,0.95,1,1.05,1.1],
                "tickSize": {"condition": {"test": "abs(datum.value / 0.2 - round(datum.value / 0.2)) < 0.001", "value": -8}, "value": -4}
              }
            },
            "y2": {"datum": 0}
          }
        },
        {
          "data": {"name": "rightNotes"},
          "mark": {"type": "text", "align": "left", "baseline": "alphabetic", "fontSize": 18, "font": "Liberation Serif", "color": "black"},
          "encoding": {
            "x": {"field": "E", "type": "quantitative", "axis": null},
            "y": {"field": "F", "type": "quantitative", "axis": null},
            "text": {"field": "t"}
          }
        },
        {
          "data": {"name": "rightSubs"},
          "mark": {"type": "text", "align": "left", "baseline": "alphabetic", "fontSize": 11, "font": "Liberation Serif", "color": "black"},
          "encoding": {
            "x": {"field": "E", "type": "quantitative", "axis": null},
            "y": {"field": "F", "type": "quantitative", "axis": null},
            "text": {"field": "t"}
          }
        }
      ]
    }
  ]
}
